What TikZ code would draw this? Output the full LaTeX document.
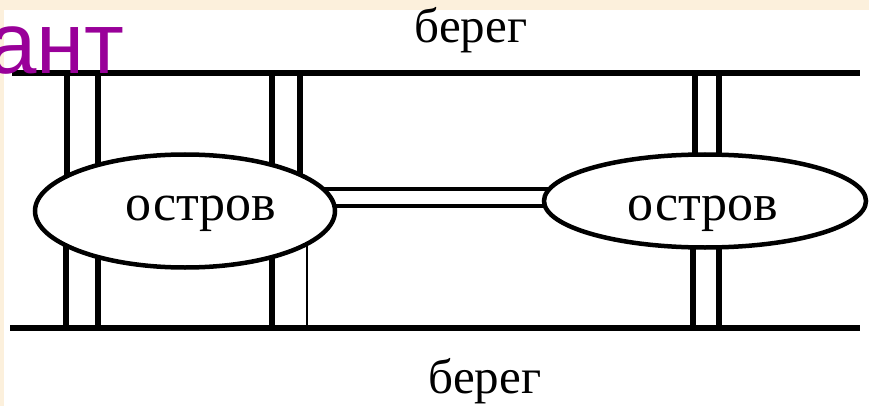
\documentclass[tikz,border=0pt]{standalone}
\usepackage{fontspec}
\setmainfont{Liberation Serif}
\newfontfamily\sansf{Liberation Sans}
\usetikzlibrary{shapes.geometric}
\definecolor{cream}{RGB}{252,240,220}
\definecolor{headpurple}{RGB}{153,0,153}
\tikzset{
  shore/.style={line width=5.5pt},
  bridgeline/.style={line width=5.3pt},
  thinline/.style={line width=1.6pt},
  island/.style={ellipse, draw, line width=4.5pt, fill=white, inner sep=0pt},
  lbl/.style={inner sep=0pt, font=\fontsize{52}{52}\selectfont},
  shorelbl/.style={inner sep=0pt, font=\fontsize{49}{49}\selectfont},
}
\begin{document}
\begin{tikzpicture}[x=1pt,y=-1pt]
\useasboundingbox (0,0) rectangle (869,406);
\fill[cream] (0,0) rectangle (869,406);
\fill[white] (4,10) rectangle (869,406);
% reference points
\coordinate (L) at (185,211);
\coordinate (R) at (705,201);
\coordinate (t1) at (12,73);
\coordinate (t2) at (860,73);
\coordinate (b1) at (10,328);
\coordinate (b2) at (860,328);
% shores
\draw[shore] (t1) -- (t2);
\draw[shore] (b1) -- (b2);
% bridges from the top shore
\draw[bridgeline] (67,0 |- t1) -- (67,0 |- L);
\draw[bridgeline] (98,0 |- t1) -- (98,0 |- L);
\draw[bridgeline] (272,0 |- t1) -- (272,0 |- L);
\draw[bridgeline] (300,0 |- t1) -- (300,0 |- L);
\draw[bridgeline] (695,0 |- t1) -- (695,0 |- R);
\draw[bridgeline] (719,0 |- t1) -- (719,0 |- R);
% bridges to the bottom shore
\draw[bridgeline] (66,0 |- L) -- (66,0 |- b1);
\draw[bridgeline] (98,0 |- L) -- (98,0 |- b1);
\draw[bridgeline] (272,0 |- L) -- (272,0 |- b1);
\draw[thinline] (307,0 |- L) -- (307,0 |- b1);
\draw[bridgeline] (693,0 |- R) -- (693,0 |- b1);
\draw[bridgeline] (719,0 |- R) -- (719,0 |- b1);
% bridge between the islands
\draw[line width=4.8pt] (L |- 0,189) -- (R |- 0,189);
\draw[line width=4.8pt] (L |- 0,206) -- (R |- 0,206);
% islands
\node[island, minimum width=300pt, minimum height=113pt] (isl1) at (L) {};
\node[island, minimum width=322pt, minimum height=93pt] (isl2) at (R) {};
\node[lbl, anchor=base] (lab1) at (201,220) {остров};
\node[lbl, anchor=base] (lab2) at (703,220) {остров};
% shore labels
\node[shorelbl, anchor=base] (sh1) at (471,43) {берег};
\node[shorelbl, anchor=base] (sh2) at (485,393) {берег};
% heading fragment
\node[inner sep=0pt, anchor=base east, text=headpurple, font=\sansf\fontsize{87}{87}\selectfont] (head) at (125,74) {ант};
\end{tikzpicture}
\end{document}
